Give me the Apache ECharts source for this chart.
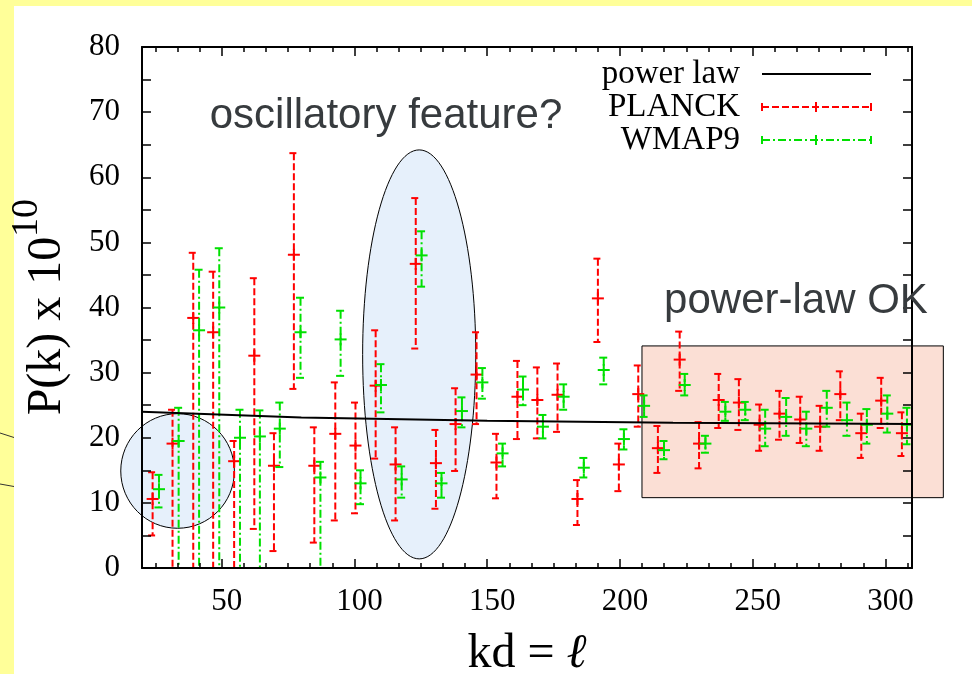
<!DOCTYPE html>
<html>
<head>
<meta charset="utf-8">
<script src="https://cdn.jsdelivr.net/npm/echarts@6/dist/echarts.min.js"></script>
<style>
  html, body { margin: 0; padding: 0; background: #ffffff; }
  #chart { width: 972px; height: 674px; }
</style>
</head>
<body>
<div id="chart"></div>
<script>
// PLANCK spectrum estimates: multipole, value, lower and upper ends of the error bar
const planckX    = [24.0, 31.5, 39.3, 46.8, 54.7, 62.3, 69.7, 77.2, 84.9, 92.8, 100.4, 108.0, 115.5, 123.1, 130.7, 138.1, 146.0, 153.5, 161.4, 168.9, 176.5, 184.0, 191.7, 199.6, 206.9, 214.3, 222.5, 229.8, 237.2, 244.8, 252.6, 260.1, 267.9, 275.4, 283.0, 290.9, 298.4, 306.2];
const planckY    = [10.6, 19.1, 38.4, 36.2, 16.4, 32.6, 15.7, 48.1, 15.7, 20.6, 18.8, 28.0, 15.9, 46.7, 16.1, 22.1, 29.7, 16.2, 26.3, 25.8, 26.6, 10.6, 41.4, 15.9, 26.7, 18.4, 32.0, 19.1, 25.8, 25.4, 22.0, 23.7, 22.8, 21.7, 26.7, 20.7, 25.7, 20.7];
const planckLow  = [5.0, -5, -5, -5, -5, 6.0, 2.6, 27.5, 3.9, 7.3, 8.4, 16.8, 7.3, 33.7, 9.1, 14.9, 22.1, 10.7, 19.8, 19.9, 20.9, 6.6, 34.7, 11.8, 21.7, 14.6, 27.2, 15.3, 21.5, 21.2, 18.0, 19.7, 19.2, 18.0, 22.7, 16.9, 21.5, 17.2];
const planckHigh = [14.7, 24.3, 48.4, 45.5, 19.5, 44.5, 20.7, 63.7, 21.6, 28.5, 25.4, 36.5, 21.6, 56.8, 21.2, 27.6, 36.2, 20.6, 31.8, 30.8, 31.4, 13.5, 47.5, 19.1, 31.1, 21.8, 36.3, 22.4, 29.8, 29.0, 25.1, 27.2, 26.3, 24.9, 30.2, 23.7, 29.2, 23.9];

// WMAP9 spectrum estimates
const wmapX    = [26.4, 33.8, 41.5, 49.1, 56.9, 64.4, 71.9, 79.7, 87.2, 94.8, 102.3, 110.0, 117.8, 125.3, 132.8, 140.5, 148.2, 155.8, 163.5, 171.0, 178.8, 186.4, 193.9, 201.5, 209.1, 216.6, 224.4, 232.2, 239.7, 247.2, 254.7, 262.6, 270.2, 277.9, 285.5, 293.0, 300.7, 308.1];
const wmapY    = [12.1, 19.5, 36.5, 40.0, 20.0, 20.2, 21.4, 36.2, 13.9, 35.1, 13.0, 28.1, 13.6, 48.0, 13.0, 24.1, 28.5, 17.6, 27.4, 21.7, 26.3, 15.4, 30.4, 19.8, 24.9, 18.1, 28.1, 19.1, 24.0, 24.3, 21.4, 23.2, 21.4, 24.6, 22.7, 22.0, 23.7, 22.0];
const wmapLow  = [9.3, -5, -5, -5, -5, -5, 15.5, 29.2, -5, 29.5, 9.8, 23.9, 10.8, 43.2, 10.8, 21.6, 26.0, 15.6, 25.0, 19.9, 24.3, 13.9, 28.2, 18.2, 23.2, 16.7, 26.5, 17.7, 22.6, 22.7, 18.7, 20.3, 18.7, 21.7, 20.3, 19.1, 20.8, 19.0];
const wmapHigh = [14.3, 24.6, 45.8, 49.1, 24.3, 24.2, 25.4, 41.5, 16.3, 39.5, 15.0, 31.3, 15.6, 51.7, 14.6, 26.2, 30.7, 19.1, 29.4, 23.5, 28.2, 16.9, 32.3, 21.3, 26.5, 19.5, 29.8, 20.3, 25.5, 25.5, 24.3, 26.1, 24.0, 27.2, 25.4, 24.4, 26.5, 24.6];

// Power-law fit
const powerLawX = [20, 80, 150, 220, 310];
const powerLawY = [24.0, 23.1, 22.6, 22.3, 22.1];

// Axis ticks
const xMajorTicks = [50, 100, 150, 200, 250, 300];
const xMinorTicks = [25, 33.33, 41.67, 58.33, 66.67, 75, 83.33, 91.67, 108.33, 116.67, 125, 133.33, 141.67,
                     158.33, 166.67, 175, 183.33, 191.67, 208.33, 216.67, 225, 233.33, 241.67,
                     258.33, 266.67, 275, 283.33, 291.67, 308.33];
const yLabelValues = [0, 10, 20, 30, 40, 50, 60, 70, 80];

const SERIF = "'Liberation Serif', 'DejaVu Serif', serif";
const SANS = "'Liberation Sans', Arial, sans-serif";
const RED = '#ff0000';
const GREEN = '#00e000';
const RED_DASH = [7, 3];
const GREEN_DASH = [8, 3, 2, 3];

function zip4(xs, ys, lo, hi) {
  return xs.map((x, i) => [x, ys[i], lo[i], hi[i]]);
}

// Vertical error bar with end caps and a "+" at the value
function errorBar(color, dash) {
  return function (params, api) {
    const x = api.value(0);
    const c = api.coord([x, api.value(1)]);
    const lo = api.coord([x, api.value(2)]);
    const hi = api.coord([x, api.value(3)]);
    const cap = 4.5, mk = 6;
    const ls = { stroke: color, lineWidth: 2, lineDash: dash, fill: null };
    const solid = { stroke: color, lineWidth: 2, fill: null };
    return {
      type: 'group',
      children: [
        { type: 'line', shape: { x1: c[0], y1: hi[1], x2: c[0], y2: lo[1] }, style: ls },
        { type: 'line', shape: { x1: c[0] - cap, y1: hi[1], x2: c[0] + cap, y2: hi[1] }, style: ls },
        { type: 'line', shape: { x1: c[0] - cap, y1: lo[1], x2: c[0] + cap, y2: lo[1] }, style: ls },
        { type: 'line', shape: { x1: c[0] - mk, y1: c[1], x2: c[0] + mk, y2: c[1] }, style: solid },
        { type: 'line', shape: { x1: c[0], y1: c[1] - mk, x2: c[0], y2: c[1] + mk }, style: solid }
      ]
    };
  };
}

const axisLineStyle = { color: '#000', width: 2 };
const tickLineStyle = { color: '#000', width: 1.5 };

function xAxisDef(position, ticks, len, withLine, withLabels) {
  return {
    type: 'value', min: 20, max: 310, position: position, z: 4,
    axisLine: { show: withLine, onZero: false, lineStyle: axisLineStyle },
    axisTick: { show: true, inside: true, length: len, customValues: ticks, lineStyle: tickLineStyle },
    axisLabel: withLabels ? {
      customValues: ticks, fontFamily: SERIF, fontSize: 31, color: '#000',
      margin: 18, padding: [0, 0, 0, 10]
    } : { show: false },
    splitLine: { show: false }
  };
}

function yAxisDef(position, withLabels) {
  return {
    type: 'value', min: 0, max: 80, interval: 5, position: position, z: 4,
    axisLine: { show: true, onZero: false, lineStyle: axisLineStyle },
    axisTick: { show: true, inside: true, length: 9, lineStyle: tickLineStyle },
    axisLabel: withLabels ? {
      customValues: yLabelValues, fontFamily: SERIF, fontSize: 31, color: '#000', margin: 22
    } : { show: false },
    splitLine: { show: false }
  };
}

const chart = echarts.init(document.getElementById('chart'), null, { renderer: 'canvas' });

const option = {
  backgroundColor: '#ffffff',
  animation: false,
  grid: { left: 142, right: 60, top: 47, bottom: 106, containLabel: false },
  xAxis: [
    xAxisDef('bottom', xMajorTicks, 9, true, true),
    xAxisDef('bottom', xMinorTicks, 5, false, false),
    xAxisDef('top', xMajorTicks, 9, true, false),
    xAxisDef('top', xMinorTicks, 5, false, false)
  ],
  yAxis: [yAxisDef('left', true), yAxisDef('right', false)],
  series: [
    {
      name: 'power law', type: 'line', z: 3,
      data: powerLawX.map((x, i) => [x, powerLawY[i]]),
      showSymbol: false, lineStyle: { color: '#000', width: 2 }, silent: true
    },
    {
      name: 'PLANCK', type: 'custom', z: 3, clip: true,
      renderItem: errorBar(RED, RED_DASH),
      encode: { x: 0, y: [1, 2, 3] },
      data: zip4(planckX, planckY, planckLow, planckHigh)
    },
    {
      name: 'WMAP9', type: 'custom', z: 3, clip: true,
      renderItem: errorBar(GREEN, GREEN_DASH),
      encode: { x: 0, y: [1, 2, 3] },
      data: zip4(wmapX, wmapY, wmapLow, wmapHigh)
    }
  ]
};

chart.setOption(option);

// Highlighted regions, given in data units
const lowEllRegion  = { cx: 33.4, cy: 14.9, rx: 21.4, ry: 8.8 };
const oscRegion     = { cx: 124.4, cy: 32.8, rx: 21.3, ry: 31.4 };
const okRegion      = { x1: 208.3, x2: 321.8, y1: 10.8, y2: 34.1 };

function px(x, y) { return chart.convertToPixel({ gridIndex: 0 }, [x, y]); }

function ellipseEl(r) {
  const c = px(r.cx, r.cy);
  const e = px(r.cx + r.rx, r.cy + r.ry);
  return {
    type: 'ellipse', z: 1,
    shape: { cx: c[0], cy: c[1], rx: Math.abs(e[0] - c[0]), ry: Math.abs(c[1] - e[1]) },
    style: { fill: '#e6f0fb', stroke: '#000', lineWidth: 1 }
  };
}

const rA = px(okRegion.x1, okRegion.y2);
const rB = px(okRegion.x2, okRegion.y1);

// Legend keys
const legendY = [74, 107, 140];
const keyX1 = 762, keyX2 = 871, keyMid = 816;
function legendKey(y, color, dash) {
  return [
    { type: 'line', z: 6, shape: { x1: keyX1, y1: y, x2: keyX2, y2: y }, style: { stroke: color, lineWidth: 2, lineDash: dash } },
    { type: 'line', z: 6, shape: { x1: keyX1, y1: y - 4, x2: keyX1, y2: y + 4 }, style: { stroke: color, lineWidth: 2 } },
    { type: 'line', z: 6, shape: { x1: keyX2, y1: y - 4, x2: keyX2, y2: y + 4 }, style: { stroke: color, lineWidth: 2 } },
    { type: 'line', z: 6, shape: { x1: keyMid, y1: y - 5, x2: keyMid, y2: y + 5 }, style: { stroke: color, lineWidth: 2 } }
  ];
}
function legendText(y, s) {
  return { type: 'text', z: 6, x: 740, y: y,
    style: { text: s, font: '33px ' + SERIF, fill: '#000', align: 'right', verticalAlign: 'middle' } };
}

chart.setOption({
  graphic: [
    // page edge strips
    { type: 'rect', z: 0, shape: { x: 0, y: 0, width: 972, height: 6 }, style: { fill: '#ffff99' } },
    { type: 'rect', z: 0, shape: { x: 0, y: 0, width: 14, height: 674 }, style: { fill: '#ffff99' } },
    { type: 'line', z: 0, shape: { x1: 0, y1: 433, x2: 14, y2: 437.5 }, style: { stroke: '#333', lineWidth: 1 } },
    { type: 'line', z: 0, shape: { x1: 0, y1: 484, x2: 14, y2: 486.5 }, style: { stroke: '#333', lineWidth: 1 } },

    // highlighted regions
    ellipseEl(lowEllRegion),
    ellipseEl(oscRegion),
    { type: 'rect', z: 1,
      shape: { x: rA[0], y: rA[1], width: rB[0] - rA[0], height: rB[1] - rA[1] },
      style: { fill: '#fbdfd5', stroke: '#000', lineWidth: 1 } },

    // region captions
    { type: 'text', z: 6, x: 386, y: 116,
      style: { text: 'oscillatory feature?', font: '42px ' + SANS, fill: '#373b3e', align: 'center', verticalAlign: 'middle' } },
    { type: 'text', z: 6, x: 796, y: 301,
      style: { text: 'power-law OK', font: '42px ' + SANS, fill: '#373b3e', align: 'center', verticalAlign: 'middle' } },

    // axis titles
    { type: 'text', z: 6, x: 527, y: 654,
      style: {
        text: 'kd = {ell|ℓ}', fontFamily: SERIF, fontSize: 48, fill: '#000', align: 'center', verticalAlign: 'middle',
        rich: { ell: { fontFamily: SERIF, fontSize: 48, fontStyle: 'italic', fill: '#000' } }
      } },
    { type: 'text', z: 6, x: 47, y: 326, rotation: Math.PI / 2,
      style: { text: 'P(k) x 10', font: '48px ' + SERIF, fill: '#000', align: 'center', verticalAlign: 'middle' } },
    { type: 'text', z: 6, x: 27, y: 218, rotation: Math.PI / 2,
      style: { text: '10', font: '38px ' + SERIF, fill: '#000', align: 'center', verticalAlign: 'middle' } },

    // legend
    legendText(legendY[0], 'power law'),
    { type: 'line', z: 6, shape: { x1: keyX1, y1: legendY[0], x2: keyX2, y2: legendY[0] }, style: { stroke: '#000', lineWidth: 2 } },
    legendText(legendY[1], 'PLANCK'),
    ...legendKey(legendY[1], RED, RED_DASH),
    legendText(legendY[2], 'WMAP9'),
    ...legendKey(legendY[2], GREEN, GREEN_DASH)
  ]
});
</script>
</body>
</html>
